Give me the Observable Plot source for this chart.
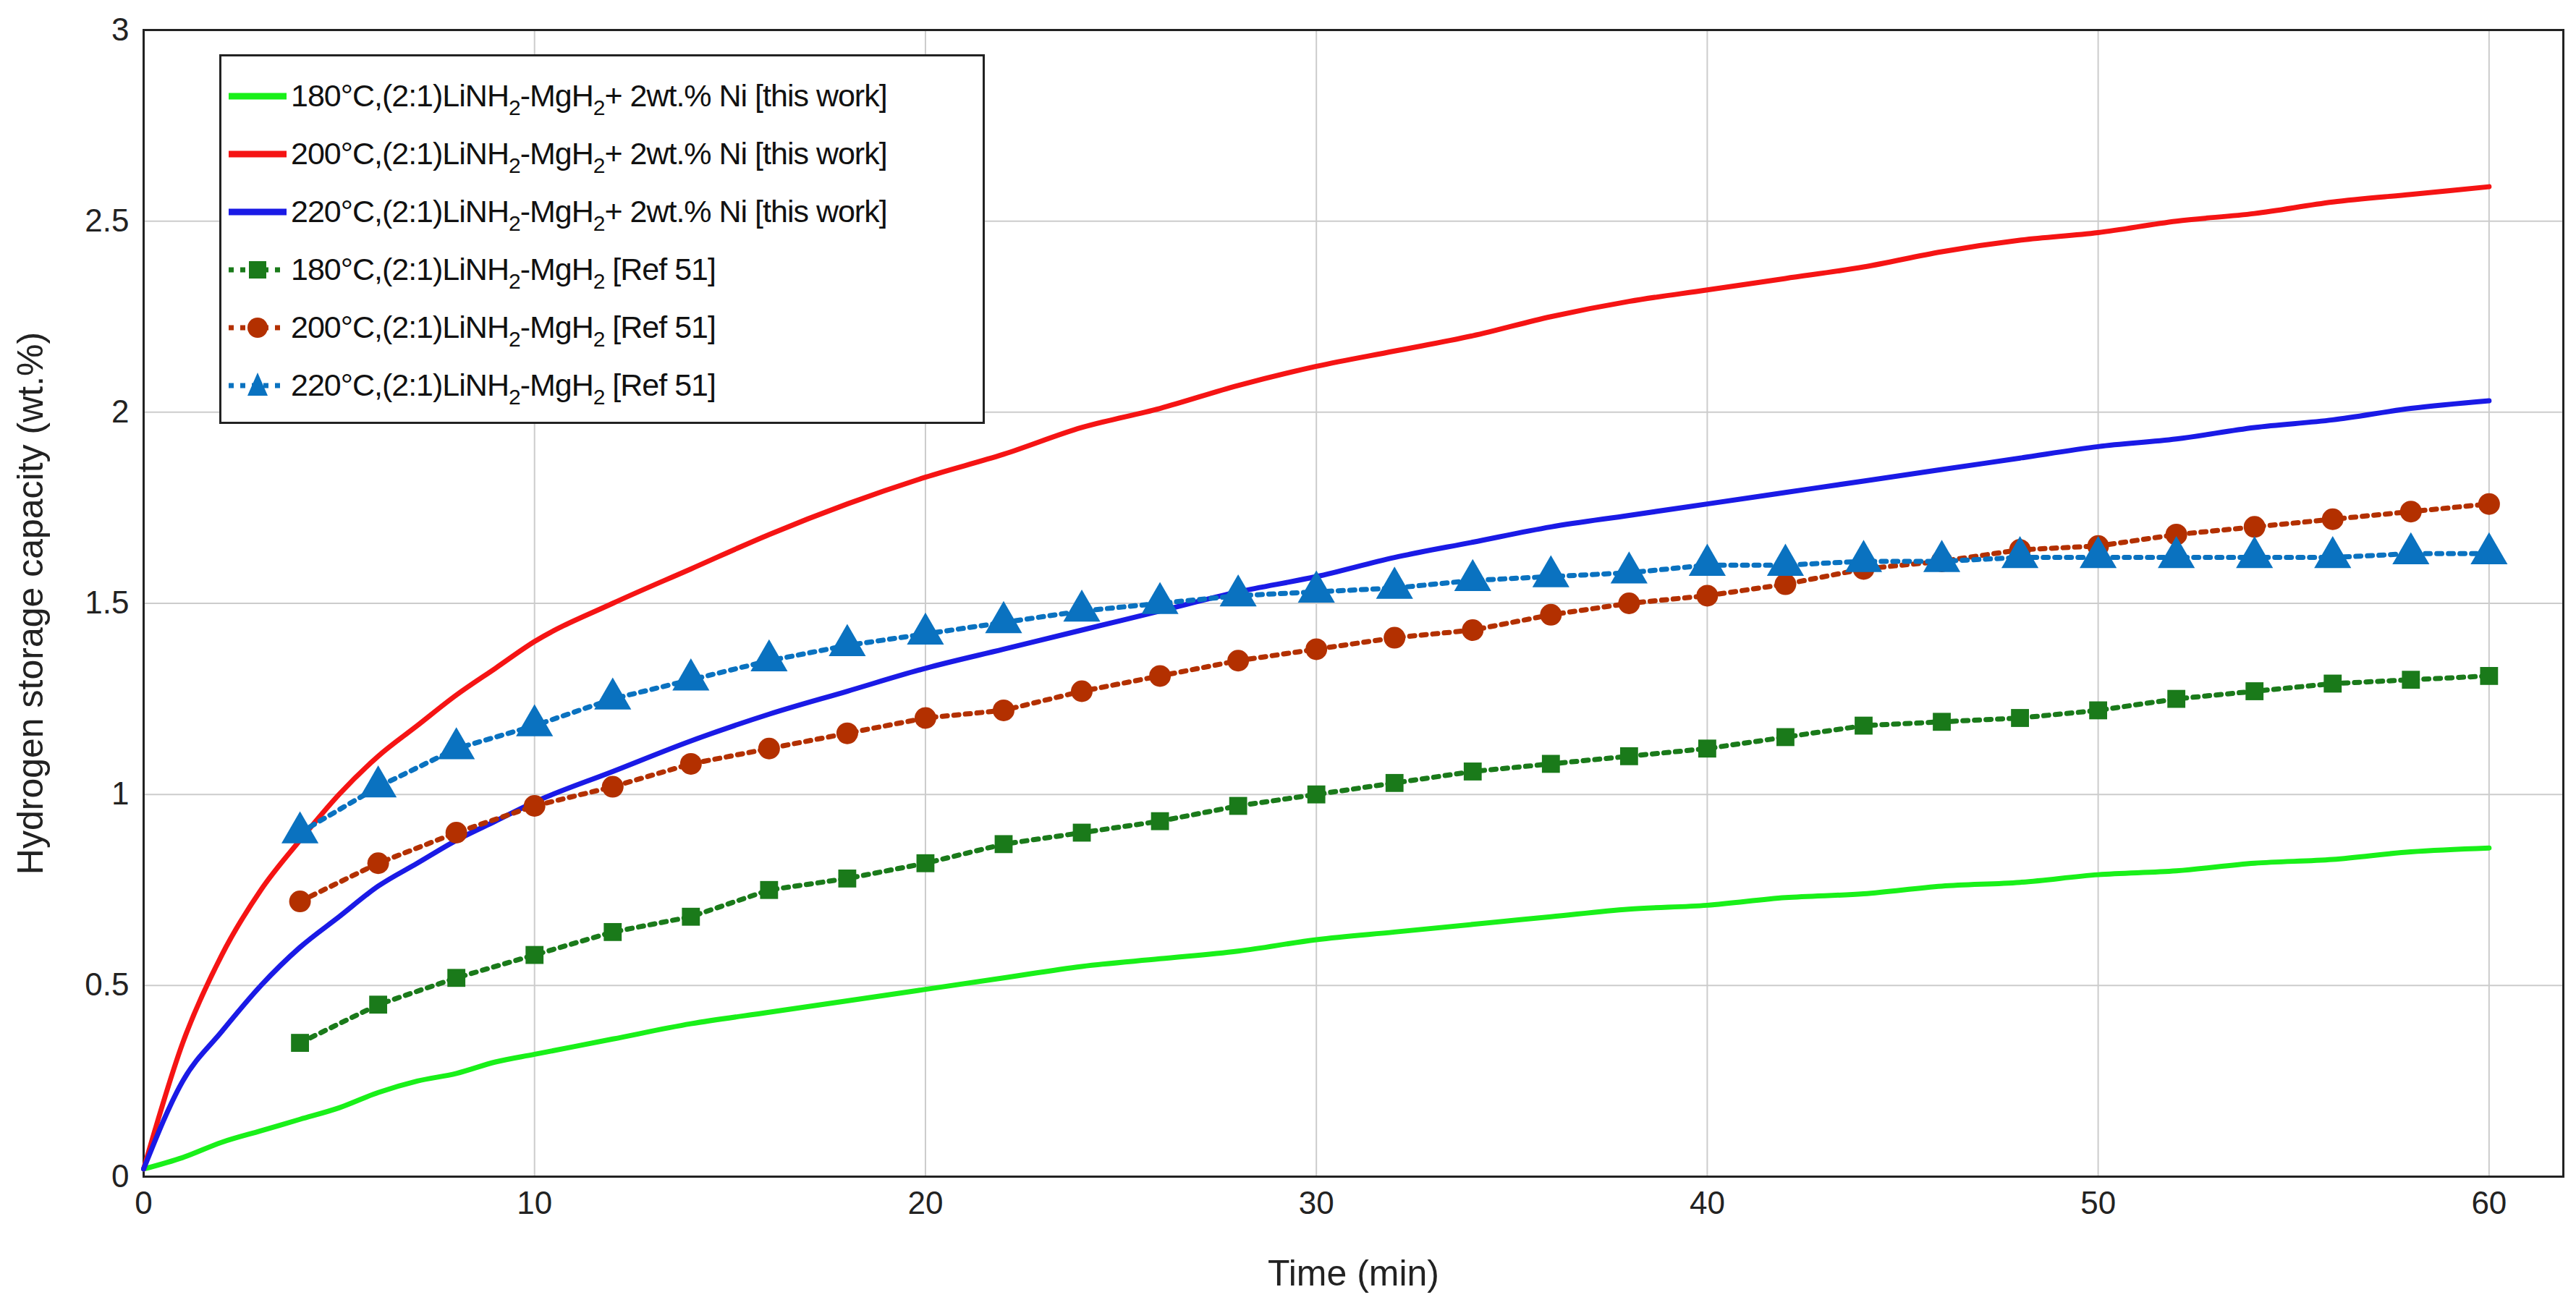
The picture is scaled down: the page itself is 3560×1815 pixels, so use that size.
<!DOCTYPE html>
<html><head><meta charset="utf-8">
<script src="https://cdn.jsdelivr.net/npm/d3@7"></script>
<script src="https://cdn.jsdelivr.net/npm/@observablehq/plot@0.6"></script>
<style>body{margin:0;background:#fff;font-family:"Liberation Sans",Arial,sans-serif}#wrap{position:relative;width:3560px;height:1815px}
#legend{position:absolute;left:303px;top:75px;width:1058px;height:511px;border:3px solid #222;background:#fff;box-sizing:border-box;font-size:43px;color:#111}
.row{position:absolute;left:10px;display:flex;align-items:center;white-space:nowrap;letter-spacing:-1px}
.row svg{margin-right:4px}
sub{font-size:30px;vertical-align:-12px;line-height:0}</style>
</head><body><div id="wrap"><div id="chart"></div><div id="legend"></div></div>
<script>
const tCont=[0,1,2,3,4,5,6,7,8,9,10,12,14,16,18,20,22,24,26,28,30,32,34,36,38,40,42,44,46,48,50,52,54,56,58,60];
const red200=[0.02,0.35,0.58,0.75,0.88,1.0,1.1,1.18,1.26,1.33,1.4,1.5,1.59,1.68,1.76,1.83,1.89,1.96,2.01,2.07,2.12,2.16,2.2,2.25,2.29,2.32,2.35,2.38,2.42,2.45,2.47,2.5,2.52,2.55,2.57,2.59];
const blue220=[0.02,0.25,0.38,0.5,0.6,0.68,0.76,0.82,0.88,0.93,0.98,1.06,1.14,1.21,1.27,1.33,1.38,1.43,1.48,1.53,1.57,1.62,1.66,1.7,1.73,1.76,1.79,1.82,1.85,1.88,1.91,1.93,1.96,1.98,2.01,2.03];
const green180=[0.02,0.05,0.09,0.12,0.15,0.18,0.22,0.25,0.27,0.3,0.32,0.36,0.4,0.43,0.46,0.49,0.52,0.55,0.57,0.59,0.62,0.64,0.66,0.68,0.7,0.71,0.73,0.74,0.76,0.77,0.79,0.8,0.82,0.83,0.85,0.86];
const tRef=d3.range(4,61,2);
const ref180=[0.35,0.45,0.52,0.58,0.64,0.68,0.75,0.78,0.82,0.87,0.9,0.93,0.97,1.0,1.03,1.06,1.08,1.1,1.12,1.15,1.18,1.19,1.2,1.22,1.25,1.27,1.29,1.30,1.31];
const ref200=[0.72,0.82,0.9,0.97,1.02,1.08,1.12,1.16,1.2,1.22,1.27,1.31,1.35,1.38,1.41,1.43,1.47,1.5,1.52,1.55,1.59,1.61,1.64,1.65,1.68,1.7,1.72,1.74,1.76];
const ref220=[0.9,1.02,1.12,1.18,1.25,1.3,1.35,1.39,1.42,1.45,1.48,1.5,1.52,1.53,1.54,1.56,1.57,1.58,1.6,1.6,1.61,1.61,1.62,1.62,1.62,1.62,1.62,1.63,1.63];
const xTicks=[0,10,20,30,40,50,60];
const C={g:"#19f019",r:"#f51414",b:"#1a1ae6",dg:"#1a7a1a",br:"#b33000",lb:"#0a72c0"};
const cont=(ys,c)=>Plot.line(tCont.map((t,i)=>({t,v:ys[i]})),{x:"t",y:"v",stroke:c,strokeWidth:7,curve:"monotone-x"});
const refL=(ys,c,sym,r)=>[Plot.line(tRef.map((t,i)=>({t,v:ys[i]})),{x:"t",y:"v",stroke:c,strokeWidth:7,strokeDasharray:"7,9"}),
 Plot.dot(tRef.map((t,i)=>({t,v:ys[i]})),{x:"t",y:"v",fill:c,symbol:sym,r})];
const p=Plot.plot({width:3560,height:1815,marginLeft:198,marginRight:18,marginTop:41,marginBottom:189,
 style:{fontFamily:"Liberation Sans, Arial, sans-serif",fontSize:"44px",color:"#222"},
 x:{domain:[0,61.9],ticks:xTicks,grid:true,label:"Time (min)",labelAnchor:"center",labelArrow:"none",labelOffset:150,tickSize:0,tickPadding:20},
 y:{domain:[0,3],ticks:d3.range(0,3.01,0.5),tickFormat:d=>String(d),grid:true,label:"Hydrogen storage capacity (wt.%)",labelAnchor:"center",labelArrow:"none",labelOffset:175,tickSize:0,tickPadding:20},
 marks:[Plot.frame({stroke:"#222",strokeWidth:3}),
  cont(green180,C.g),cont(red200,C.r),cont(blue220,C.b),
  ...refL(ref180,C.dg,"square",14),...refL(ref200,C.br,"circle",15),...refL(ref220,C.lb,"triangle",19)]});
p.querySelectorAll("[aria-label=grid] line, g[aria-label$=grid] line").forEach(l=>{l.setAttribute("stroke","#ccc");l.setAttribute("stroke-opacity","1");l.setAttribute("stroke-width","2")});
p.querySelectorAll("text").forEach(t=>{if(/Time|Hydrogen/.test(t.textContent))t.style.fontSize="50px"});
document.getElementById("chart").append(p);
const leg=[["180°C,(2:1)LiNH<sub>2</sub>-MgH<sub>2</sub>+ 2wt.% Ni [this work]",C.g,null],
["200°C,(2:1)LiNH<sub>2</sub>-MgH<sub>2</sub>+ 2wt.% Ni [this work]",C.r,null],
["220°C,(2:1)LiNH<sub>2</sub>-MgH<sub>2</sub>+ 2wt.% Ni [this work]",C.b,null],
["180°C,(2:1)LiNH<sub>2</sub>-MgH<sub>2</sub> [Ref 51]",C.dg,"sq"],
["200°C,(2:1)LiNH<sub>2</sub>-MgH<sub>2</sub> [Ref 51]",C.br,"ci"],
["220°C,(2:1)LiNH<sub>2</sub>-MgH<sub>2</sub> [Ref 51]",C.lb,"tr"]];
const L=document.getElementById("legend");
leg.forEach(([txt,c,m],i)=>{const d=document.createElement("div");d.className="row";d.style.top=(30+i*80)+"px";
 let mk="";if(m=="sq")mk=`<rect x="28" y="8" width="24" height="24" fill="${c}"/>`;if(m=="ci")mk=`<circle cx="40" cy="20" r="14" fill="${c}"/>`;if(m=="tr")mk=`<polygon points="40,2 54,34 26,34" fill="${c}"/>`;
 const line=m?`<line x1="0" y1="20" x2="80" y2="20" stroke="${c}" stroke-width="7" stroke-dasharray="7,9"/>`:`<line x1="0" y1="20" x2="80" y2="20" stroke="${c}" stroke-width="9"/>`;
 d.innerHTML=`<svg width="82" height="40">${line}${mk}</svg><span>${txt}</span>`;L.append(d);});
</script></body></html>
